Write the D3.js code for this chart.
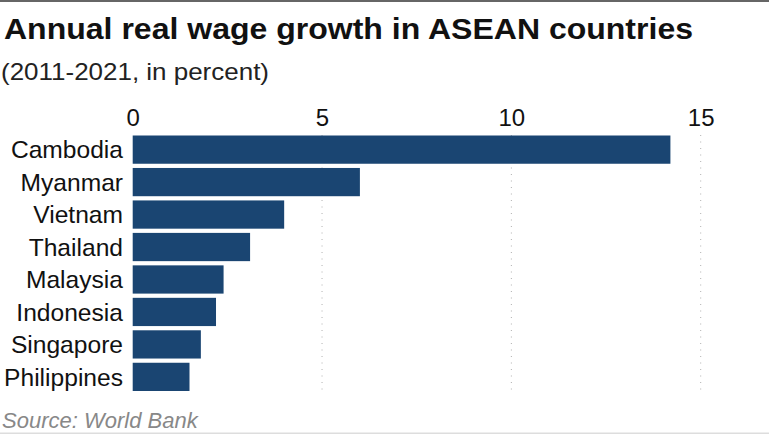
<!DOCTYPE html>
<html>
<head>
<meta charset="utf-8">
<script src="https://cdn.jsdelivr.net/npm/d3@7"></script>
<style>
  html, body { margin: 0; padding: 0; background: #fff; }
  svg { display: block; font-family: "Liberation Sans", Arial, Helvetica, sans-serif; }
</style>
</head>
<body>
<svg id="chart" width="769" height="434"></svg>
<script>
const countries = ["Cambodia", "Myanmar", "Vietnam", "Thailand", "Malaysia", "Indonesia", "Singapore", "Philippines"];
const growth = [14.2, 6.0, 4.0, 3.1, 2.4, 2.2, 1.8, 1.5];
const tickValues = [0, 5, 10, 15];
const titleText = "Annual real wage growth in ASEAN countries";
const subtitleText = "(2011-2021, in percent)";
const sourceText = "Source: World Bank";

const svg = d3.select("#chart");
const W = 769, H = 434;

const x = d3.scaleLinear().domain([0, 15]).range([132.7, 700.7]);
const y = d3.scaleBand().domain(countries).range([135.5, 391]).paddingInner(0.13).paddingOuter(0);

// frame lines
svg.append("rect").attr("x", 0).attr("y", 0).attr("width", W).attr("height", 2).attr("fill", "#666");
svg.append("rect").attr("x", 0).attr("y", 432.5).attr("width", W).attr("height", 1.5).attr("fill", "#ddd");

// title
svg.append("text").attr("x", 4).attr("y", 38.5)
  .attr("font-size", 29.5).attr("font-weight", "bold").attr("fill", "#111")
  .attr("textLength", 689).attr("lengthAdjust", "spacingAndGlyphs")
  .text(titleText);
svg.append("text").attr("x", 1).attr("y", 80)
  .attr("font-size", 24).attr("fill", "#222")
  .attr("textLength", 268).attr("lengthAdjust", "spacingAndGlyphs")
  .text(subtitleText);

// gridlines
svg.append("g").selectAll("line").data(tickValues.filter(d => d > 0)).join("line")
  .attr("x1", d => x(d)).attr("x2", d => x(d))
  .attr("y1", 135).attr("y2", 391)
  .attr("stroke", "#b0b0b0").attr("stroke-width", 1)
  .attr("stroke-dasharray", "1,5.5");

// top axis
const axis = d3.axisTop(x).tickValues(tickValues).tickSize(0).tickPadding(0).tickFormat(d3.format("d"));
const ag = svg.append("g").attr("transform", "translate(0,126)").call(axis);
ag.select(".domain").remove();
ag.selectAll("text").attr("font-size", 24).attr("fill", "#111")
  .attr("font-family", "\"Liberation Sans\", Arial, sans-serif").attr("dy", 0);

// bars
svg.append("g").selectAll("rect").data(countries).join("rect")
  .attr("x", x(0)).attr("y", d => y(d))
  .attr("width", (d, i) => x(growth[i]) - x(0))
  .attr("height", y.bandwidth())
  .attr("fill", "#1a4572");

// labels
svg.append("g").selectAll("text").data(countries).join("text")
  .attr("x", 123).attr("y", d => y(d) + y.bandwidth() / 2)
  .attr("dy", "0.36em").attr("text-anchor", "end")
  .attr("font-size", 24.6).attr("fill", "#111")
  .text(d => d);

// source
svg.append("text").attr("x", 2).attr("y", 428)
  .attr("font-size", 22).attr("font-style", "italic").attr("fill", "#888")
  .text(sourceText);
</script>
</body>
</html>
